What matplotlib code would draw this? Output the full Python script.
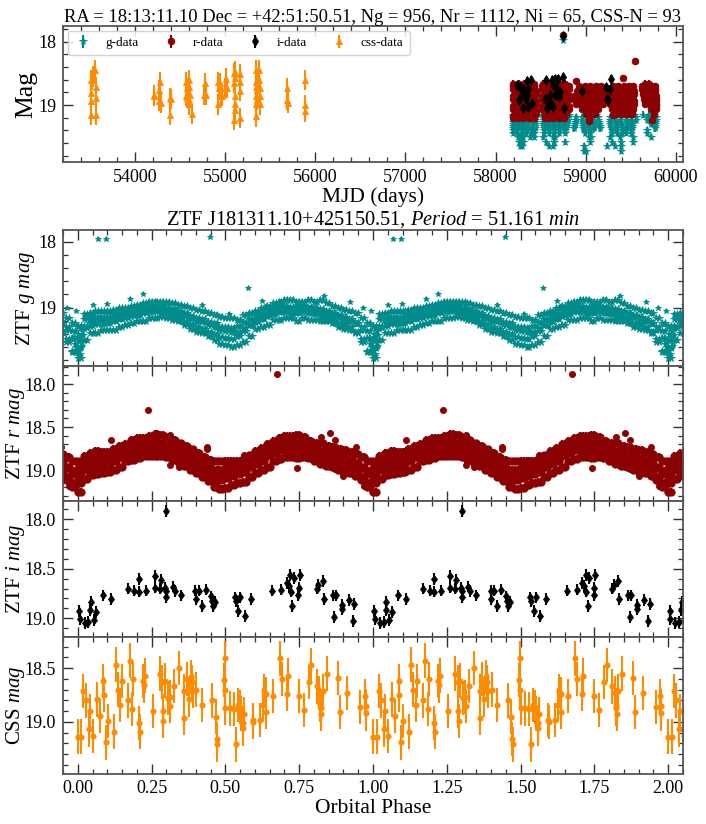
import matplotlib
matplotlib.use('Agg')
import matplotlib.pyplot as plt
import numpy as np

plt.rcParams['font.family'] = ['Liberation Serif', 'DejaVu Serif']
plt.rcParams['mathtext.fontset'] = 'custom'
plt.rcParams['mathtext.rm'] = 'Liberation Serif'
plt.rcParams['mathtext.it'] = 'Liberation Serif:italic'
plt.rcParams['mathtext.bf'] = 'Liberation Serif:bold'

TEAL = '#008b8b'; RED = '#8b0000'; BLACK = '#000000'; ORANGE = '#ff8c00'

# ---- phase columns
phase_even = [.00,.02,.04,.06,.08,.10,.12,.14,.16,.18,.20,.22,.24,.26,.28,.30,.32,.34,.36,.38,.40,.42,.44,.46,.48,.50,.52,.54,.56,.58,.60,.62,.64,.66,.68,.70,.72,.74,.76,.78,.80,.82,.84,.86,.88,.90,.92,.94,.96,.98]
phase_odd = [.01,.03,.05,.07,.09,.11,.13,.15,.17,.19,.21,.23,.25,.27,.29,.31,.33,.35,.37,.39,.41,.43,.45,.47,.49,.51,.53,.55,.57,.59,.61,.63,.65,.67,.69,.71,.73,.75,.77,.79,.81,.83,.85,.87,.89,.91,.93,.95,.97,.99]

# ---- g phased
g_top = [19.29,19.10,19.09,19.06,19.06,19.06,19.04,19.01,19.01,18.98,18.96,18.93,18.91,18.91,18.91,18.92,18.93,18.96,18.98,19.01,19.04,19.06,19.09,19.11,19.14,19.16,19.16,19.19,19.11,19.09,19.06,19.01,18.98,18.93,18.91,18.88,18.88,18.91,18.91,18.88,18.91,18.88,18.93,18.98,19.01,19.04,19.06,19.09,19.16,19.24]
g_bottom = [19.77,19.50,19.39,19.39,19.34,19.34,19.34,19.29,19.26,19.24,19.21,19.21,19.16,19.16,19.14,19.16,19.19,19.21,19.26,19.32,19.37,19.39,19.44,19.49,19.55,19.57,19.60,19.57,19.52,19.44,19.32,19.29,19.26,19.19,19.19,19.16,19.16,19.21,19.16,19.19,19.19,19.21,19.21,19.24,19.29,19.32,19.34,19.39,19.52,19.68]
g_upper = [19.28,19.17,19.16,19.15,19.15,19.14,19.12,19.09,19.07,19.05,19.02,19.00,18.99,18.98,18.98,19.00,19.03,19.05,19.09,19.13,19.16,19.18,19.22,19.24,19.29,19.30,19.31,19.28,19.22,19.17,19.12,19.08,19.04,19.01,18.98,18.97,18.99,18.99,18.98,18.99,19.00,19.02,19.05,19.08,19.12,19.14,19.17,19.23,19.30,19.36]
g_lower = [19.60,19.31,19.28,19.25,19.25,19.24,19.21,19.18,19.16,19.13,19.12,19.08,19.07,19.06,19.07,19.09,19.12,19.16,19.20,19.25,19.29,19.32,19.38,19.41,19.45,19.47,19.48,19.43,19.36,19.27,19.22,19.18,19.13,19.10,19.07,19.07,19.09,19.09,19.07,19.09,19.10,19.13,19.15,19.19,19.23,19.25,19.30,19.38,19.48,19.66]
g_center = [19.50,19.28,19.24,19.22,19.20,19.20,19.19,19.15,19.13,19.11,19.08,19.07,19.03,19.03,19.02,19.04,19.06,19.08,19.12,19.16,19.20,19.22,19.26,19.30,19.34,19.36,19.38,19.38,19.31,19.26,19.19,19.15,19.12,19.06,19.05,19.02,19.02,19.06,19.03,19.03,19.05,19.05,19.07,19.11,19.15,19.18,19.20,19.24,19.34,19.46]
g_dip_phase = [.000,.003,.006,.009,.012,.015,.018,.995,.990,.985,.002,.008,.014]
g_dip_mag = [19.66,19.74,19.70,19.62,19.58,19.52,19.42,19.60,19.55,19.48,19.40,19.45,19.35]
g_out_phase = [.069,.096,.447,.221,.577,.052,.099,.624,.638,.835,.923,.965,.993,.421,.178,.511]
g_out_mag = [17.96,17.95,17.93,18.80,18.71,18.96,18.94,18.90,18.98,18.82,18.92,19.01,19.05,18.96,18.87,19.10]

# ---- r phased
r_top = [18.90,18.84,18.80,18.78,18.79,18.79,18.75,18.72,18.70,18.65,18.63,18.63,18.60,18.58,18.59,18.62,18.65,18.69,18.72,18.76,18.80,18.85,18.88,18.90,18.90,18.89,18.89,18.89,18.87,18.83,18.78,18.74,18.70,18.66,18.63,18.60,18.60,18.59,18.61,18.66,18.68,18.69,18.72,18.73,18.75,18.77,18.79,18.81,18.85,18.90]
r_bottom = [19.25,19.10,19.06,19.05,19.03,19.02,19.00,18.96,18.90,18.88,18.86,18.84,18.84,18.84,18.84,18.85,18.88,18.91,18.95,19.00,19.03,19.08,19.13,19.20,19.22,19.21,19.17,19.15,19.14,19.08,19.03,19.00,18.96,18.90,18.87,18.85,18.85,18.86,18.85,18.86,18.90,18.93,18.95,18.97,19.00,19.02,19.04,19.07,19.12,19.20]
r_upper = [18.98,18.90,18.87,18.87,18.86,18.84,18.81,18.78,18.74,18.71,18.70,18.68,18.67,18.67,18.68,18.71,18.74,18.77,18.81,18.85,18.89,18.94,18.98,19.00,19.00,18.98,18.97,18.96,18.92,18.87,18.83,18.79,18.75,18.71,18.69,18.68,18.68,18.68,18.70,18.73,18.76,18.78,18.80,18.82,18.84,18.86,18.88,18.92,18.97,19.01]
r_lower = [19.15,19.00,18.97,18.96,18.95,18.93,18.89,18.85,18.82,18.79,18.78,18.76,18.76,18.76,18.77,18.80,18.83,18.86,18.91,18.95,18.99,19.04,19.09,19.11,19.11,19.09,19.07,19.05,19.02,18.97,18.93,18.89,18.83,18.80,18.77,18.77,18.77,18.77,18.78,18.81,18.84,18.86,18.89,18.91,18.93,18.95,18.98,19.02,19.08,19.15]
r_center = [19.07,18.97,18.93,18.91,18.91,18.90,18.87,18.84,18.80,18.76,18.74,18.73,18.72,18.71,18.71,18.73,18.76,18.80,18.83,18.88,18.91,18.96,19.00,19.05,19.06,19.05,19.03,19.02,19.00,18.95,18.90,18.87,18.83,18.78,18.75,18.72,18.72,18.72,18.73,18.76,18.79,18.81,18.83,18.85,18.87,18.89,18.91,18.94,18.98,19.05]
r_out_phase = [.237,.675,.112,.438,.438,.314,.342,.562,.743,.90,.87,.824,.855,.872,.942,.314,.271,.970,.009]
r_out_mag = [18.30,17.88,18.65,18.73,18.76,18.94,18.96,18.82,18.98,19.07,18.99,18.62,18.57,18.65,18.73,18.59,18.58,19.19,19.25]

# ---- i phased
i_phase = [.005,.007,.024,.036,.043,.045,.054,.063,.084,.111,.170,.192,.207,.208,.230,.261,.261,.278,.281,.297,.300,.300,.300,.321,.330,.350,.398,.400,.410,.420,.435,.450,.455,.458,.464,.532,.536,.544,.551,.565,.586,.657,.690,.708,.714,.720,.722,.727,.733,.747,.748,.752,.809,.815,.831,.833,.863,.869,.874,.894,.894,.918,.933,.937]
i_mag = [18.925,19.01,19.05,19.04,18.92,18.84,19.02,18.94,18.77,18.81,18.70,18.72,18.73,18.60,18.72,18.57,18.69,18.70,18.61,18.69,18.72,18.79,17.915,18.68,18.725,18.77,18.72,18.81,18.72,18.88,18.71,18.78,18.83,18.88,18.84,18.79,18.83,18.93,18.79,18.98,18.81,18.72,18.71,18.64,18.67,18.56,18.73,18.88,18.59,18.77,18.69,18.56,18.70,18.66,18.62,18.81,18.77,18.99,18.77,18.87,18.91,18.82,19.03,18.86]

# ---- CSS phased
css_phase = [0,.012,.019,.027,.038,.041,.052,.064,.074,.087,.088,.096,.102,.122,.130,.137,.144,.149,.170,.176,.185,.188,.208,.211,.221,.223,.227,.254,.279,.287,.289,.290,.296,.304,.312,.314,.325,.342,.361,.361,.369,.376,.383,.387,.391,.402,.421,.456,.468,.471,.473,.494,.498,.499,.500,.516,.529,.535,.542,.550,.553,.558,.562,.560,.594,.595,.617,.628,.630,.637,.637,.660,.684,.691,.708,.711,.749,.765,.784,.791,.809,.818,.822,.823,.825,.830,.845,.880,.888,.913,.957,.972,.977,.976]
css_mag = [19.137,19.137,18.714,18.80,19.07,18.90,19.13,18.79,18.945,18.62,18.745,19.19,18.99,19.09,18.466,18.70,18.84,18.62,18.80,18.43,18.88,18.60,19.01,19.09,18.62,18.66,18.57,18.90,18.55,18.63,18.90,18.99,18.615,18.78,18.77,18.85,18.665,18.50,18.96,18.71,18.60,18.79,18.58,18.63,18.71,18.70,18.845,18.80,18.95,19.16,19.21,18.61,18.41,18.70,18.87,18.875,18.88,19.21,18.84,18.86,18.92,19.01,18.925,19.06,18.98,19.00,18.98,18.84,18.71,18.74,18.91,18.76,18.41,18.60,18.74,18.57,18.76,18.89,18.63,18.47,18.67,18.73,18.845,18.875,18.925,18.71,18.55,18.59,18.91,18.73,18.86,18.76,18.85,18.92]

# ---- top panel: CSS light curve
top_css_mjd = [53507,53507,53507,53507,53522,53537,53556,53567,53563,53563,54207,54215,54267,54278,54267,54285,54385,54393,54389,54567,54581,54593,54593,54563,54574,54593,54596,54607,54633,54778,54770,54785,54922,54930,54922,54944,54952,54963,55011,55000,55019,55096,55104,55096,55111,55107,55107,55111,55096,55163,55163,55167,55167,55341,55337,55341,55341,55341,55344,55352,55352,55352,55370,55378,55381,55381,55381,55685,55685,55693,55889,55889,55889]
top_css_mag = [18.60,18.81,18.94,19.15,18.60,18.55,18.44,18.72,18.89,19.15,18.84,18.86,18.76,18.63,18.94,18.97,18.89,18.90,19.16,18.63,18.73,18.60,18.71,18.86,18.89,18.92,18.99,18.84,19.14,18.65,18.84,18.84,18.63,18.73,18.99,18.65,18.86,18.86,18.58,18.73,18.73,18.49,18.57,18.65,18.47,18.86,18.99,19.08,19.23,19.21,18.51,18.64,18.77,18.44,18.63,18.71,18.86,18.99,19.18,18.60,18.76,18.92,18.44,18.60,18.73,18.86,18.99,18.73,18.92,18.96,18.60,19.00,19.10]

# ---- top panel: i band
top_i_mjd = [58389,58352,58241,58270,58307,58363,58289,58352,58263,58337,58307,58363,58400,58559,58622,58659,58696,58752,58641,58678,58715,58604,58548,58659,58604,58574,58641,58759,58707,58956,59222,59278,59270,59233,59252,58748]
top_i_mag = [18.60,18.62,18.69,18.71,18.74,18.74,18.82,18.84,18.92,18.90,19.04,19.03,18.97,18.61,18.60,18.58,18.58,18.55,18.69,18.74,18.79,18.84,18.90,18.84,18.95,19.04,19.03,19.05,18.87,18.77,18.72,18.58,18.74,18.90,18.92,17.91]

# ---- top panel: r band, dates seen at each magnitude level
top_r_levels = [18.66,18.74,18.82,18.90,18.98,19.06,19.14,19.20]
top_r_dates = [
 [58195,58255,58315,58375,58430,58530,58590,58650,58710,58770,59660,59700],
 [58190,58250,58310,58370,58430,58520,58580,58640,58700,58760,58810,58930,58990,59050,59110,59170,59300,59360,59420,59480,59530,59620,59680,59730,59770],
 [58215,58275,58335,58395,58445,58545,58605,58665,58725,58785,58905,58965,59025,59085,59145,59200,59265,59325,59385,59445,59505,59540,59640,59700,59770],
 [58190,58250,58310,58370,58430,58520,58580,58640,58700,58760,58810,58875,58935,58995,59055,59115,59175,59300,59360,59420,59480,59530,59650,59710,59775],
 [58215,58275,58335,58395,58445,58545,58605,58665,58725,58785,58890,58950,59010,59070,59130,59190,59265,59325,59385,59445,59505,59540,59660,59720,59780],
 [58190,58250,58310,58370,58430,58520,58580,58640,58700,58760,58810,58960,59020,59080,59140,59290,59350,59410,59470,59530,59720,59775],
 [58215,58275,58335,58395,58445,58545,58605,58665,58725,58785,59000,59050,59100,59340,59400,59460,59510,59760],
 [58190,58250,58310,58370,58430,58580,58640,58700,58760,59035],
]
top_r_levels_extra = [18.70,18.78,18.86,18.94,19.02,19.10,19.17]
top_r_out_mjd = [58748,59544,58896,59411,59300,58544,59733,59035]
top_r_out_mag = [17.90,18.31,18.62,18.57,19.16,19.20,19.24,19.25]

# ---- top panel: g band, dates seen at each magnitude level
top_g_levels = [19.15,19.23,19.30,19.37,19.44,19.51,19.58,19.65,19.73]
top_g_dates = [
 [58190,58250,58310,58370,58430,58520,58580,58640,58700,58760,58810,59000,59060,59120,59300,59360,59420,59480,59540,59640,59700,59760],
 [58205,58260,58320,58385,58435,58535,58595,58655,58715,58770,58800,58890,58960,59020,59080,59140,59265,59325,59385,59445,59505,59560,59680,59740,59775],
 [58190,58240,58295,58350,58410,58435,58530,58585,58640,58695,58750,58790,58885,58970,59030,59090,59150,59275,59335,59395,59455,59515,59720,59770],
 [58195,58250,58305,58360,58415,58435,58535,58590,58645,58700,58755,58785,58875,58975,59035,59095,59160,59280,59340,59400,59460,59510,59765],
 [58190,58240,58290,58340,58390,58430,58540,58595,58650,58700,58770,58990,59050,59290,59345,59400,59450,59500,59680],
 [58250,58275,58300,58385,58425,58530,58640,58665,59040,59060,59270,59385,59520,59720],
 [58255,58285,58310,58555,58650,58770,59045,59290,59395,59530],
 [58270,58295,58590,58640,58985,59240,59320,59395],
 [58985,59000,59390],
]
top_g_levels_extra = [19.19,19.26,19.33,19.40]
top_g_out_mjd = [58748]
top_g_out_mag = [17.97]

# ---- labels
title_top = 'RA = 18:13:11.10 Dec = +42:51:50.51, Ng = 956, Nr = 1112, Ni = 65, CSS-N = 93'
title_bottom = r'ZTF J181311.10+425150.51, $\mathit{Period}$ = 51.161 $\mathit{min}$'

W, H = 706.0, 824.0
fig = plt.figure(figsize=(W / 100, H / 100), dpi=100)


def add_axes(left, top, right, bottom):
    return fig.add_axes([left / W, 1 - bottom / H, (right - left) / W, (bottom - top) / H])


def style(ax, xminor, yminor):
    ax.tick_params(which='both', direction='in', top=True, right=True, color='#333333')
    ax.tick_params(which='major', length=7, width=1.0, labelsize=13, pad=5)
    ax.tick_params(which='minor', length=3.5, width=0.9)
    ax.xaxis.set_minor_locator(plt.MultipleLocator(xminor))
    ax.yaxis.set_minor_locator(plt.MultipleLocator(yminor))
    for s in ax.spines.values():
        s.set_linewidth(1.3)
        s.set_color('#555555')


def eb(ax, x, y, err, color, marker, ms, lw=1.5, label=None):
    return ax.errorbar(x, y, yerr=err, fmt=marker, color=color, ecolor=color, ms=ms,
                       mew=0.6, elinewidth=lw, ls='none', label=label)


def expand(levels, dates):
    xs, ys = [], []
    for lev, row in zip(levels, dates):
        xs += row
        ys += [lev] * len(row)
    return xs, ys


def label_at(ax, text, px, size):
    ax.set_ylabel(text, fontsize=size)
    ax.yaxis.set_label_coords((px - 63) / 620, 0.5)


# ----- top panel
ax0 = add_axes(63, 26, 683, 162)
gx, gy = expand(top_g_levels, top_g_dates)
gx2, gy2 = expand(top_g_levels_extra, top_g_dates[1:])
rx, ry = expand(top_r_levels, top_r_dates)
rx2, ry2 = expand(top_r_levels_extra, top_r_dates[1:])
eb(ax0, gx + gx2 + top_g_out_mjd, gy + gy2 + top_g_out_mag, 0.05, TEAL, '*', 5.5, label='g-data')
eb(ax0, rx + rx2 + top_r_out_mjd, ry + ry2 + top_r_out_mag, 0.05, RED, 'o', 4.8, label='r-data')
eb(ax0, top_i_mjd, top_i_mag, 0.06, BLACK, 'd', 4.8, label='i-data')
eb(ax0, top_css_mjd, top_css_mag, 0.16, ORANGE, '^', 4.6, label='css-data')
ax0.set_xlim(53200, 60080)
ax0.set_ylim(19.9, 17.75)
ax0.set_xticks([54000, 55000, 56000, 57000, 58000, 59000, 60000])
ax0.set_yticks([18, 19])
style(ax0, 200, 0.2)
ax0.set_xlabel('MJD (days)', fontsize=15.5, labelpad=1)
label_at(ax0, 'Mag', 37, 18.5)
ax0.set_title(title_top, fontsize=13.3, pad=3)
ax0.legend(loc='upper left', ncol=4, fontsize=9.5, bbox_to_anchor=(0.0, 1.0), borderaxespad=0.35,
           columnspacing=1.68, handletextpad=0.9, frameon=True, framealpha=0.85, edgecolor='#cccccc',
           borderpad=0.45, handlelength=1.5)


def cycles(p, shifts):
    p = np.asarray(p, dtype=float)
    return np.concatenate([p + s for s in shifts])


def cyc_vals(v, shifts):
    return np.concatenate([np.asarray(v, dtype=float)] * len(shifts))


tops = [230, 366, 501, 637]
bots = [366, 501, 637, 773.5]
axes = [add_axes(63, t, 683, b) for t, b in zip(tops, bots)]

ALL = [-1, 0, 1, 2]
POS = [0, 1, 2]

# ----- g panel
gp = (phase_even + phase_odd + phase_odd + phase_even + phase_even
      + phase_odd + phase_even + phase_even + phase_odd + phase_odd + g_dip_phase)
gm = (g_top + g_upper + g_lower + g_bottom + g_center
      + g_top + g_upper + g_lower + g_bottom + g_center + g_dip_mag)
eb(axes[0], cycles(gp, ALL), cyc_vals(gm, ALL), 0.035, TEAL, '*', 5.6, lw=1.2)
eb(axes[0], cycles(g_out_phase, ALL), cyc_vals(g_out_mag, ALL), 0.03, TEAL, '*', 4.4, lw=1.2)
axes[0].set_ylim(19.89, 17.82)
axes[0].set_yticks([18, 19])
label_at(axes[0], r'ZTF $\mathit{g}$ $\mathit{mag}$', 37, 15)
axes[0].set_title(title_bottom, fontsize=14.7, pad=4)
style(axes[0], 0.05, 0.2)

# ----- r panel
rp = (phase_even + phase_odd + phase_odd + phase_even + phase_even
      + phase_odd + phase_even + phase_even + phase_odd + phase_odd)
rm = (r_top + r_upper + r_lower + r_bottom + r_center
      + r_top + r_upper + r_lower + r_bottom + r_center)
eb(axes[1], cycles(rp, ALL), cyc_vals(rm, ALL), 0.045, RED, 'o', 5.3)
eb(axes[1], cycles(r_out_phase, ALL), cyc_vals(r_out_mag, ALL), 0.02, RED, 'o', 4.4)
axes[1].set_ylim(19.36, 17.79)
axes[1].set_yticks([18.0, 18.5, 19.0])
label_at(axes[1], r'ZTF $\mathit{r}$ $\mathit{mag}$', 27, 15)
style(axes[1], 0.05, 0.1)

# ----- i panel
eb(axes[2], cycles(i_phase, POS), cyc_vals(i_mag, POS), 0.06, BLACK, 'd', 4.4)
axes[2].set_ylim(19.19, 17.815)
axes[2].set_yticks([18.0, 18.5, 19.0])
label_at(axes[2], r'ZTF $\mathit{i}$ $\mathit{mag}$', 27, 15)
style(axes[2], 0.05, 0.1)

# ----- CSS panel
eb(axes[3], cycles(css_phase, POS), cyc_vals(css_mag, POS), 0.16, ORANGE, 'o', 3.8)
axes[3].set_ylim(19.48, 18.21)
axes[3].set_yticks([18.5, 19.0])
label_at(axes[3], r'CSS $\mathit{mag}$', 27, 15)
axes[3].set_xlabel('Orbital Phase', fontsize=15.5, labelpad=1)
style(axes[3], 0.05, 0.1)

for a in axes:
    a.set_xlim(-0.05, 2.05)
    a.set_xticks([0, 0.25, 0.5, 0.75, 1.0, 1.25, 1.5, 1.75, 2.0])
for a in axes[:-1]:
    a.set_xticklabels([])
axes[3].set_xticklabels(['0.00', '0.25', '0.50', '0.75', '1.00', '1.25', '1.50', '1.75', '2.00'])

fig.savefig('out.png', dpi=100)
